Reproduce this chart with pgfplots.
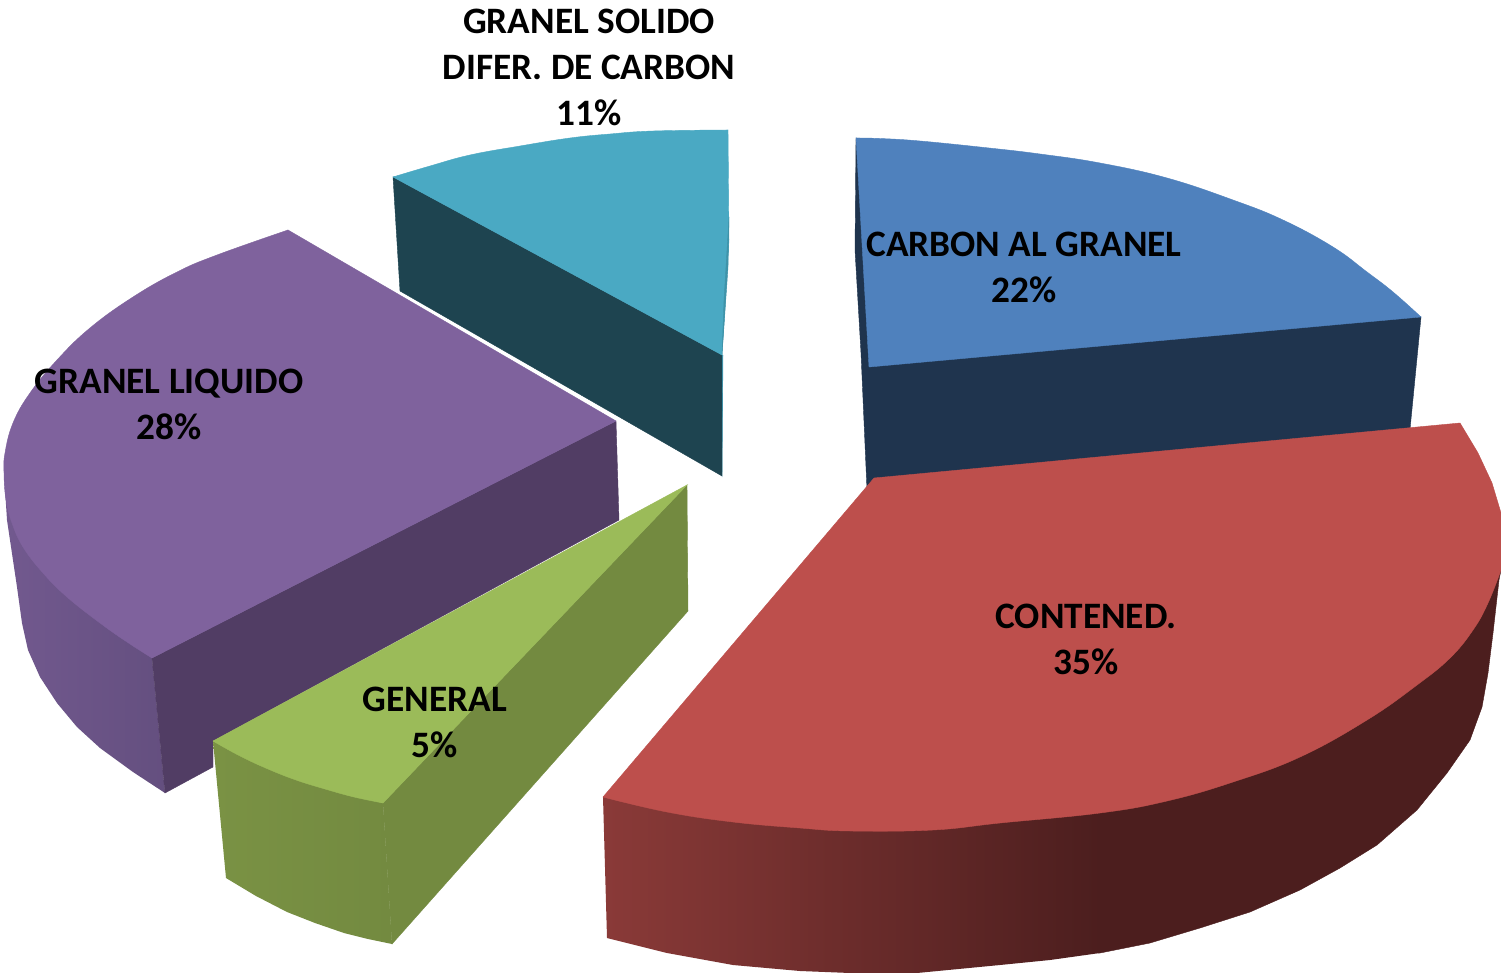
\documentclass[border=0pt]{standalone}
\usepackage{pgfplots}
\pgfplotsset{compat=1.18}
\usepackage{fontspec}
\setmainfont{Carlito}

\definecolor{bluetop}{HTML}{4F81BD}
\definecolor{bluewall}{HTML}{1F344E}
\definecolor{redtop}{HTML}{BD4F4C}
\definecolor{redwallA}{HTML}{8A3A38}
\definecolor{redwallC}{HTML}{4C1E1E}
\definecolor{purpletop}{HTML}{7F629D}
\definecolor{purplewall}{HTML}{513D64}
\definecolor{purplesideA}{HTML}{72598F}
\definecolor{purplesideB}{HTML}{644F7F}
\definecolor{greentop}{HTML}{9BBB59}
\definecolor{greenwall}{HTML}{738A40}
\definecolor{greensideA}{HTML}{7A9244}
\definecolor{tealtop}{HTML}{4AA9C3}
\definecolor{tealwall}{HTML}{1E4450}
\definecolor{tealedge}{HTML}{3F93A9}

\tikzset{
  pieface/.style={draw=#1, fill=#1, line width=0.4pt},
  piearc/.style={draw=#1, fill=#1, line width=0.4pt, smooth, tension=0.7},
  lab/.style={font=\fontsize{37.3}{46}\selectfont\bfseries, align=center, text=black},
}

\begin{document}
\begin{tikzpicture}
\begin{axis}[
    width=1501pt, height=973pt, scale only axis,
    xmin=0, xmax=1501, ymin=0, ymax=973,
    y dir=reverse,
    hide axis,
]
% page background keeps the full size
\addplot[draw=none, fill=white] coordinates {(0,0) (1501,0) (1501,973) (0,973)} --cycle;

% carbon al granel 22%
\addplot[pieface=bluewall] coordinates {(856,138) (855,250) (861,353) (867,490) (1406,470) (1421,317)} --cycle;
\addplot[piearc=bluetop] coordinates {(856,138) (880,138.5) (920,141) (989,148) (1040,154) (1100,163) (1167,178)
    (1233,200) (1283,220) (1333,247) (1367,272) (1393,292) (1421,317)};
\addplot[pieface=bluetop] coordinates {(856,138) (1150,200) (1421,317) (869,367)} --cycle;

% contened. 35%
\addplot[pieface=redwallC] coordinates {(1098,700) (1098,953) (1100,953)
    (1150,943) (1200,928) (1250,912) (1300,890) (1340,868) (1377,845) (1417,810) (1447,773) (1470,740)
    (1482,707) (1488,673) (1493,633) (1499,580) (1501,570) (1300,600)} --cycle;
\addplot[draw=none, left color=redwallA, right color=redwallC]
  coordinates {(603,797) (607,938) (667,953) (733,965) (800,971) (850,973) (917,973) (1000,965) (1050,960) (1100,953) (1100,700)} --cycle;
\addplot[piearc=redtop] coordinates {(603,797) (667,812) (733,822) (800,828) (850,831) (933,830) (1000,823) (1100,813)
    (1167,801) (1233,782) (1300,757) (1367,720) (1417,685) (1450,658) (1473,630) (1488,603) (1501,570)};
\addplot[pieface=redtop] coordinates {(874,478) (1460,423) (1478,453) (1492,483) (1501,513) (1501,570) (1000,790) (603,797)} --cycle;

% granel liquido 28%
\addplot[draw=none, left color=purplesideA, right color=purplesideB]
  coordinates {(4,473) (7,520) (17,587) (22,623) (28,650) (40,677) (57,703) (77,727) (100,748) (133,772) (165,793) (152,658)} --cycle;
\addplot[pieface=purplewall] coordinates {(152,658) (616,421) (619,520) (213,741) (213,767) (165,793)} --cycle;
\addplot[piearc=purpletop] coordinates {(152,658) (127,642) (100,623) (67,597) (43,573) (23,547) (12,523) (6,500) (4,473) (5,453) (13,423)
    (30,393) (57,360) (90,328) (133,297) (177,272) (217,255) (288,230)};
\addplot[pieface=purpletop] coordinates {(288,230) (616,421) (152,658) (60,480)} --cycle;

% general 5%
\addplot[pieface=greenwall] coordinates {(383,803) (687,485) (688,611) (392,944)} --cycle;
\addplot[draw=none, left color=greensideA, right color=greenwall]
  coordinates {(213,741) (226,878) (256,896) (287,912) (315,923) (344,933) (368,939) (392,944) (383,803)} --cycle;
\addplot[piearc=greentop] coordinates {(213,741) (240,756) (268,769) (296,780) (325,789) (354,797) (383,803)};
\addplot[pieface=greentop] coordinates {(687,485) (383,803) (300,777) (213,741)} --cycle;

% granel solido difer. de carbon 11%
\addplot[pieface=tealtop] coordinates {(722,355) (723,355) (722,477)} --cycle;
\addplot[pieface=tealwall] coordinates {(393,177) (722,355) (722,476) (400,291)} --cycle;
\addplot[piearc=tealtop] coordinates {(393,177) (430,166) (470,155) (520,146) (570,138) (610,134) (653,131) (728,130)};
\addplot[pieface=tealtop] coordinates {(728,130) (729,240) (722,355) (393,177) (570,145)} --cycle;
\addplot[pieface=tealedge] coordinates {(729,217) (728,267) (722,355) (724,300)} --cycle;

\node[lab] at (axis cs:589,67) {GRANEL SOLIDO\\DIFER. DE CARBON\\11\%};
\node[lab] at (axis cs:1024,267) {CARBON AL GRANEL\\22\%};
\node[lab] at (axis cs:1086,639) {CONTENED.\\35\%};
\node[lab] at (axis cs:169,404) {GRANEL LIQUIDO\\28\%};
\node[lab] at (axis cs:435,722) {GENERAL\\5\%};
\end{axis}
\end{tikzpicture}
\end{document}
